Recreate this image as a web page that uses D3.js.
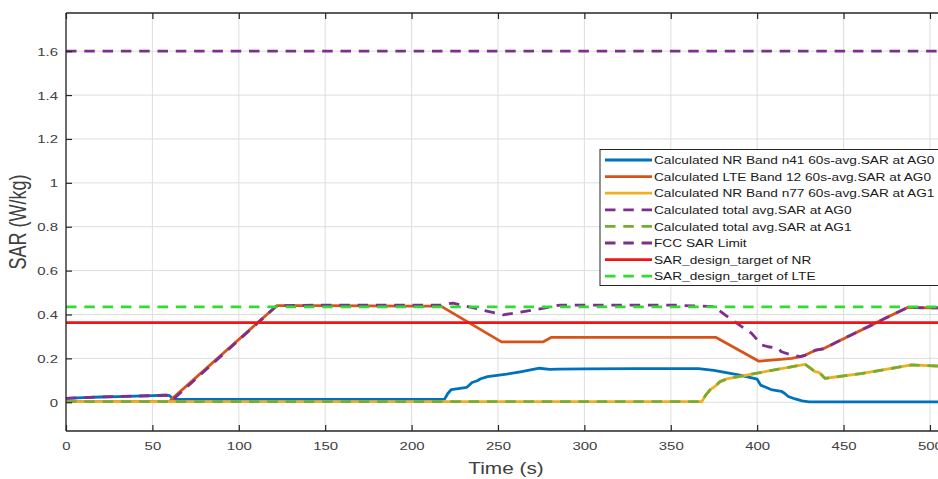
<!DOCTYPE html>
<html><head><meta charset="utf-8">
<script src="https://cdn.jsdelivr.net/npm/d3@7"></script>
<style>
html,body{margin:0;padding:0;background:#fff;}
svg{display:block;font-family:Arial,"Liberation Sans",Helvetica,sans-serif;}
</style></head>
<body><svg id="chart" width="938" height="479"></svg>
<script>
// ---------- data ----------
const xTicks = [0, 50, 100, 150, 200, 250, 300, 350, 400, 450, 500];
const yTicks = [0, 0.2, 0.4, 0.6, 0.8, 1, 1.2, 1.4, 1.6];
const yTickLabels = ["0", "0.2", "0.4", "0.6", "0.8", "1", "1.2", "1.4", "1.6"];

const nr41Time = [0,10,20,30,40,50,58,60,62,100,150,200,219,221,223,232,235,238,240,244,255,263,274,280,285,300,330,366,375,390,400,402,405,408,414,416,418,422,426,430,505];
const nr41Sar  = [0.018,0.021,0.024,0.026,0.028,0.030,0.032,0.030,0.013,0.013,0.013,0.013,0.013,0.040,0.058,0.068,0.090,0.098,0.107,0.117,0.128,0.139,0.155,0.150,0.151,0.152,0.153,0.153,0.145,0.124,0.105,0.078,0.068,0.058,0.050,0.040,0.026,0.015,0.006,0.002,0.002];

const lte12Time = [0,60,61,122,150,200,217,252,276,281,300,350,376,401,410,420,425,428,434,438,445,455,465,475,487,500,505];
const lte12Sar  = [0.003,0.003,0.013,0.440,0.440,0.438,0.438,0.275,0.275,0.296,0.296,0.296,0.296,0.187,0.193,0.200,0.208,0.215,0.238,0.243,0.270,0.309,0.347,0.386,0.432,0.430,0.430];

const nr77Time = [0,368,370,372.7,376,378.5,382.3,400,427.7,430,433.4,436,439.2,444,460,489.4,505];
const nr77Sar  = [0.003,0.003,0.030,0.056,0.075,0.094,0.106,0.133,0.173,0.160,0.140,0.135,0.109,0.114,0.130,0.170,0.165];

const totalAg0Time = [0,10,20,30,40,50,58,60,62,122,150,200,217,220,224,253,276,286,300,350,375,384,396.8,402.6,406.3,412.2,414,419.9,422.8,425,428,434,438,445,455,465,475,487,500,505];
const totalAg0Sar  = [0.018,0.021,0.024,0.026,0.028,0.030,0.032,0.030,0.013,0.440,0.443,0.442,0.442,0.448,0.452,0.398,0.428,0.443,0.443,0.443,0.436,0.383,0.314,0.261,0.253,0.246,0.230,0.215,0.211,0.208,0.215,0.238,0.243,0.270,0.309,0.347,0.386,0.432,0.430,0.430];

const totalAg1Time = [0,368,370,372.7,376,378.5,382.3,400,427.7,430,433.4,436,439.2,444,460,489.4,505];
const totalAg1Sar  = [0.003,0.003,0.030,0.056,0.075,0.094,0.106,0.133,0.173,0.160,0.140,0.135,0.109,0.114,0.130,0.170,0.165];

const fccLimit = 1.6;
const nrDesignTarget = 0.363;
const lteDesignTarget = 0.435;

const legendLabels = [
  "Calculated NR Band n41 60s-avg.SAR at AG0",
  "Calculated LTE Band 12 60s-avg.SAR at AG0",
  "Calculated NR Band n77 60s-avg.SAR at AG1",
  "Calculated total avg.SAR at AG0",
  "Calculated total avg.SAR at AG1",
  "FCC SAR Limit",
  "SAR_design_target of NR",
  "SAR_design_target of LTE"
];

// ---------- layout ----------
const svg = d3.select("#chart");
const L = 66, R = 938.6, T = 13, B = 431;
const x = d3.scaleLinear().domain([0, 505]).range([L, R]);
const y = d3.scaleLinear().domain([-0.131, 1.774]).range([B, T]);
const SX = 1.3; // horizontal stretch of the original picture's text
const axisColor = "#262626", textColor = "#404040";

// grid
const grid = svg.append("g");
grid.selectAll("line.v").data(xTicks).join("line")
  .attr("x1", d => x(d)).attr("x2", d => x(d)).attr("y1", T).attr("y2", B)
  .attr("stroke", "#dedede").attr("stroke-width", 1);
grid.selectAll("line.h").data(yTicks).join("line")
  .attr("x1", L).attr("x2", R).attr("y1", d => y(d)).attr("y2", d => y(d))
  .attr("stroke", "#dedede").attr("stroke-width", 1);

// series
const lineGen = d3.line().x(d => x(d[0])).y(d => y(d[1]));
const zip = (a, b) => a.map((t, i) => [t, b[i]]);
const dash = "10.5,7.8";
const series = [
  {data: zip(nr41Time, nr41Sar), color: "#0072BD", dash: null},
  {data: zip(lte12Time, lte12Sar), color: "#D95319", dash: null},
  {data: zip(nr77Time, nr77Sar), color: "#EDB120", dash: null},
  {data: zip(totalAg0Time, totalAg0Sar), color: "#7E2F8E", dash: dash},
  {data: zip(totalAg1Time, totalAg1Sar), color: "#77AC30", dash: dash},
  {data: [[0, fccLimit], [505, fccLimit]], color: "#7E2F8E", dash: dash},
  {data: [[0, nrDesignTarget], [505, nrDesignTarget]], color: "#F01414", dash: null},
  {data: [[0, lteDesignTarget], [505, lteDesignTarget]], color: "#2EDD2E", dash: dash}
];
const plot = svg.append("g");
plot.selectAll("path").data(series).join("path")
  .attr("d", d => lineGen(d.data))
  .attr("fill", "none")
  .attr("stroke", d => d.color)
  .attr("stroke-width", 2.8)
  .attr("stroke-dasharray", d => d.dash)
  .attr("stroke-linejoin", "round");

// axes
const axG = svg.append("g");
const yAxis = axG.append("g").attr("transform", `translate(${L},0)`)
  .call(d3.axisRight(y).tickValues(yTicks).tickSize(6).tickFormat((d, i) => yTickLabels[i]));
const xAxis = axG.append("g").attr("transform", `translate(0,${B})`)
  .call(d3.axisTop(x).tickValues(xTicks).tickSize(6).tickFormat(d3.format("d")));
const xTop = axG.append("g").attr("transform", `translate(0,${T})`)
  .call(d3.axisBottom(x).tickValues(xTicks).tickSize(6).tickFormat(""));
[yAxis, xAxis, xTop].forEach(a => {
  a.select(".domain").remove();
  a.selectAll(".tick line").attr("stroke", axisColor).attr("stroke-width", 1.2);
});
yAxis.selectAll(".tick text")
  .attr("text-anchor", "end").attr("x", -8 / SX).attr("dy", "0.35em")
  .attr("transform", `scale(${SX},1)`)
  .attr("fill", textColor).style("font-size", "11.5px").style("font-family", "Arial, 'Liberation Sans', sans-serif");
xAxis.selectAll(".tick text")
  .attr("text-anchor", "middle").attr("y", 15).attr("dy", "0.35em")
  .attr("transform", `scale(${SX},1)`)
  .attr("fill", textColor).style("font-size", "11.5px").style("font-family", "Arial, 'Liberation Sans', sans-serif");
axG.append("line").attr("x1", L).attr("x2", L).attr("y1", T).attr("y2", B).attr("stroke", axisColor).attr("stroke-width", 1.3);
axG.append("line").attr("x1", L).attr("x2", R).attr("y1", B).attr("y2", B).attr("stroke", axisColor).attr("stroke-width", 1.3);
axG.append("line").attr("x1", L).attr("x2", R).attr("y1", T).attr("y2", T).attr("stroke", axisColor).attr("stroke-width", 1.3);

// axis titles
svg.append("text").attr("transform", `translate(506,474) scale(${SX},1)`)
  .attr("text-anchor", "middle").attr("fill", textColor).style("font-size", "16px").text("Time (s)");
svg.append("text").attr("transform", `translate(26,222) scale(${SX},1) rotate(-90)`)
  .attr("text-anchor", "middle").attr("fill", textColor).style("font-size", "18px").text("SAR (W/kg)");

// legend
const lg = svg.append("g");
const lgX = 600, lgY = 149.5, rowH = 16.6;
lg.append("rect").attr("x", lgX).attr("y", lgY).attr("width", 400).attr("height", 136)
  .attr("fill", "#fff").attr("stroke", axisColor).attr("stroke-width", 1);
const rows = lg.selectAll("g.row").data(legendLabels).join("g")
  .attr("transform", (d, i) => `translate(0,${lgY + 10.5 + i * rowH})`);
rows.append("line").attr("x1", 605).attr("x2", 652).attr("y1", 0).attr("y2", 0)
  .attr("stroke", (d, i) => series[i].color).attr("stroke-width", 2.8)
  .attr("stroke-dasharray", (d, i) => series[i].dash);
rows.append("text").attr("transform", `translate(654,4.2) scale(1.19,1)`)
  .attr("fill", "#1a1a1a").style("font-size", "11.5px").text(d => d);
</script></body></html>
